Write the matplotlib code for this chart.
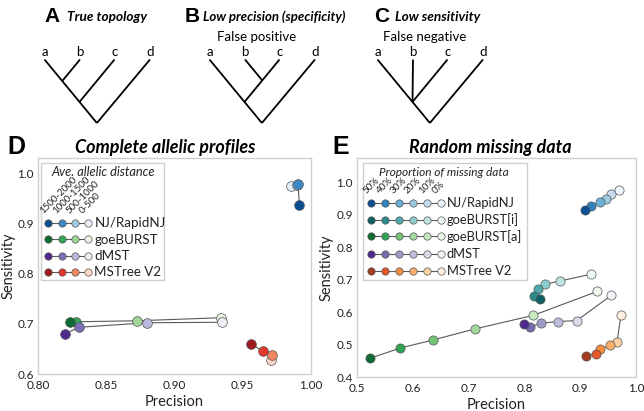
import matplotlib
matplotlib.use("Agg")
import matplotlib.pyplot as plt
from matplotlib.patches import Rectangle

# ---------------- data ----------------
dist_labels = ["1500-2000", "1000-1500", "500-1000", "0-500"]
d_methods = ["NJ/RapidNJ", "goeBURST", "dMST", "MSTree V2"]
d_nj_prec = [0.9915, 0.9905, 0.9900, 0.9850]
d_nj_sens = [0.936, 0.979, 0.977, 0.974]
d_goe_prec = [0.8236, 0.828, 0.8725, 0.934]
d_goe_sens = [0.703, 0.704, 0.706, 0.712]
d_dmst_prec = [0.820, 0.830, 0.880, 0.935]
d_dmst_sens = [0.680, 0.693, 0.702, 0.703]
d_mst_prec = [0.956, 0.965, 0.9715, 0.971]
d_mst_sens = [0.660, 0.645, 0.637, 0.628]

pct_labels = ["50%", "40%", "30%", "20%", "10%", "0%"]
e_methods = ["NJ/RapidNJ", "goeBURST[i]", "goeBURST[a]", "dMST", "MSTree V2"]
e_nj_prec = [0.908, 0.920, 0.935, 0.947, 0.956, 0.969]
e_nj_sens = [0.916, 0.926, 0.939, 0.950, 0.965, 0.977]
e_goei_prec = [0.828, 0.818, 0.825, 0.837, 0.864, 0.920]
e_goei_sens = [0.639, 0.651, 0.671, 0.686, 0.696, 0.717]
e_goea_prec = [0.524, 0.577, 0.636, 0.711, 0.816, 0.931]
e_goea_sens = [0.458, 0.489, 0.514, 0.548, 0.590, 0.664]
e_dmst_prec = [0.800, 0.810, 0.830, 0.861, 0.894, 0.956]
e_dmst_sens = [0.564, 0.554, 0.566, 0.571, 0.574, 0.652]
e_mst_prec = [0.910, 0.928, 0.936, 0.954, 0.966, 0.973]
e_mst_sens = [0.466, 0.471, 0.486, 0.498, 0.508, 0.590]

d_xticks = [0.80, 0.85, 0.90, 0.95, 1.00]
d_yticks = [0.6, 0.7, 0.8, 0.9, 1.0]
e_xticks = [0.5, 0.6, 0.7, 0.8, 0.9, 1.0]
e_yticks = [0.4, 0.5, 0.6, 0.7, 0.8, 0.9, 1.0]

# ---------------- styles ----------------
d_colors = [
    ["#0b4f92", "#3b89c6", "#9ecae1", "#e2edf7"],
    ["#0b6b33", "#36a357", "#9fd597", "#e8f5e3"],
    ["#4f2a8c", "#7a70b8", "#bab9dc", "#eeedf5"],
    ["#9e1b1e", "#e2382c", "#f2875f", "#fcd5c3"],
]
e_colors = [
    ["#0b4f92", "#3182bd", "#6baed6", "#9ecae1", "#c6dbef", "#eef4fb"],
    ["#0f5e5f", "#2b8b8d", "#51a8ac", "#8ccbcc", "#c0e4e2", "#edf7f6"],
    ["#0b6b33", "#31a354", "#74c476", "#a1d99b", "#c7e9c0", "#eef8ea"],
    ["#4f2a8c", "#756bb1", "#9e9ac8", "#bcbddc", "#dadaeb", "#f3f1f8"],
    ["#a33b20", "#e3562a", "#f68e3e", "#f9ae6c", "#fcd2a4", "#feefe0"],
]
FONT = ["Lato", "DejaVu Sans"]
LETTER = ["Liberation Sans", "DejaVu Sans"]
plt.rcParams["font.family"] = FONT
LINE_C = "#5a5a5a"
SPINE_C = "#cfcfcf"
TXT_C = "#222222"

W, H = 644, 411
fig = plt.figure(figsize=(W / 100, H / 100), dpi=100)


def rect(l, t, r, b):
    return [l / W, 1 - b / H, (r - l) / W, (b - t) / H]


axD = fig.add_axes(rect(38, 158, 311, 374))
axE = fig.add_axes(rect(357, 158, 636, 377))
ov = fig.add_axes([0, 0, 1, 1])
ov.set_xlim(0, W)
ov.set_ylim(H, 0)
ov.axis("off")


def style_axes(ax, xt, yt, xfmt, yfmt, xlim, ylim, ypad):
    ax.set_xlim(*xlim)
    ax.set_ylim(*ylim)
    ax.set_xticks(xt)
    ax.set_yticks(yt)
    ax.set_xticklabels([xfmt % v for v in xt])
    ax.set_yticklabels([yfmt % v for v in yt])
    ax.tick_params(length=0, labelsize=8.5, colors=TXT_C, pad=4)
    ax.tick_params(axis="y", pad=3)
    for s in ax.spines.values():
        s.set_color(SPINE_C)
        s.set_linewidth(1.0)
    ax.set_xlabel("Precision", fontsize=10.5, color=TXT_C, labelpad=3)
    ax.set_ylabel("Sensitivity", fontsize=10.5, color=TXT_C, labelpad=ypad)


def plot_series(ax, xs, ys, cols, ms):
    ax.plot(xs, ys, color=LINE_C, lw=0.8, zorder=2)
    for i in range(len(xs) - 1, -1, -1):
        ax.plot([xs[i]], [ys[i]], "o", ms=ms, mfc=cols[i], mec="#555555",
                mew=0.5, zorder=3 + (len(xs) - i))


style_axes(axD, d_xticks, d_yticks, "%.2f", "%.1f", (0.8, 1.0), (0.6, 1.03), 1)
style_axes(axE, e_xticks, e_yticks, "%.1f", "%.1f", (0.5, 1.0), (0.4, 1.075), 2)

d_series = [(d_nj_prec, d_nj_sens), (d_goe_prec, d_goe_sens),
            (d_dmst_prec, d_dmst_sens), (d_mst_prec, d_mst_sens)]
for (xs, ys), cols in zip(d_series, d_colors):
    plot_series(axD, xs, ys, cols, 7)

e_series = [(e_nj_prec, e_nj_sens), (e_goei_prec, e_goei_sens),
            (e_goea_prec, e_goea_sens), (e_dmst_prec, e_dmst_sens),
            (e_mst_prec, e_mst_sens)]
for (xs, ys), cols in zip(e_series, e_colors):
    plot_series(axE, xs, ys, cols, 6.6)


# ---------------- legends (figure pixel layout) ----------------
def legend(box, title, title_x, title_fs, col_x, row_y, colors, names,
           col_labels, ms, fs_name, fs_col):
    l, t, r, b = box
    ov.add_patch(Rectangle((l, t), r - l, b - t, fc="white", ec=SPINE_C,
                           lw=1.0, zorder=5))
    ov.text(title_x, t + 9, title, style="italic", fontsize=title_fs,
            ha="center", va="center", color=TXT_C, zorder=6)
    for j, lab in enumerate(col_labels):
        ov.text(col_x[j] - 4, row_y[0] - 7, lab, rotation=45,
                rotation_mode="anchor", ha="left", va="bottom",
                fontsize=fs_col, color=TXT_C, zorder=6)
    for i, name in enumerate(names):
        ov.plot([col_x[0], col_x[-1]], [row_y[i], row_y[i]], color=LINE_C,
                lw=0.8, zorder=6)
        for j in range(len(col_x)):
            ov.plot([col_x[j]], [row_y[i]], "o", ms=ms, mfc=colors[i][j],
                    mec="#555555", mew=0.5, zorder=7)
        ov.text(col_x[-1] + 6, row_y[i] + 0.5, name, fontsize=fs_name,
                va="center", ha="left", color=TXT_C, zorder=6)


legend((41, 163, 164, 280), "Ave. allelic distance", 103, 9.2,
       [48.3, 61.7, 75.0, 88.3], [222.7, 239.3, 255.6, 271.8],
       d_colors, d_methods, dist_labels, 5.3, 9.6, 7.0)
legend((363, 163, 527, 280), "Proportion of missing data", 444, 8.6,
       [371.5, 385.4, 399.3, 413.2, 427.1, 441.0],
       [202.7, 219.5, 236.3, 253.5, 270.7],
       e_colors, e_methods, pct_labels, 5.3, 9.3, 7.0)

# ---------------- panel letters & titles ----------------
ov.text(16, 147, "D", fontsize=18, fontweight="bold", family=LETTER,
        ha="center", va="center", color="black")
ov.text(165, 147, "Complete allelic profiles", fontsize=13,
        fontweight="bold", style="italic", ha="center", va="center",
        color="black")
ov.text(341, 147, "E", fontsize=18, fontweight="bold", family=LETTER,
        ha="center", va="center", color="black")
ov.text(490, 147, "Random missing data", fontsize=13,
        fontweight="bold", style="italic", ha="center", va="center",
        color="black")

# ---------------- trees (schematic) ----------------
TOP, ROOT_Y = 59.5, 123.0
K = 0.825  # horizontal shift per vertical px


def seg(x0, y0, x1, y1):
    ov.plot([x0, x1], [y0, y1], color="black", lw=1.3,
            solid_capstyle="butt", zorder=4)


def tree(ax0, kind):
    xa, xb, xc, xd = ax0, ax0 + 35.5, ax0 + 70, ax0 + 105.5
    dy = ROOT_Y - TOP
    rx = xa + K * dy
    seg(xa, TOP, rx, ROOT_Y)
    seg(xd, TOP, rx, ROOT_Y)
    t_c = (xc - xa) / (2 * K)
    if kind == "A":
        t_b = (xb - xa) / (2 * K)
        seg(xb, TOP, xa + K * t_b, TOP + t_b)
        seg(xc, TOP, xa + K * t_c, TOP + t_c)
    elif kind == "B":
        seg(xc, TOP, xa + K * t_c, TOP + t_c)
        t_bc = (xc - xb) / (2 * K)
        seg(xb, TOP, xb + K * t_bc, TOP + t_bc)
    else:
        nx = xa + K * t_c
        seg(xc, TOP, nx, TOP + t_c)
        seg(xb, TOP, nx, TOP + t_c)
    for x, lab in zip([xa, xb, xc, xd], "abcd"):
        ov.text(x, 55.5, lab, fontsize=9.5, ha="center", va="baseline",
                color="black")


tree(44.5, "A")
tree(209.5, "B")
tree(377.5, "C")

ov.text(52, 16.5, "A", fontsize=15, fontweight="bold", family=LETTER,
        ha="center", va="center")
ov.text(67, 17, "True topology", fontsize=9.8, fontweight="bold",
        style="italic", ha="left", va="center")
ov.text(192, 16.5, "B", fontsize=15, fontweight="bold", family=LETTER,
        ha="center", va="center")
ov.text(203, 17, "Low precision (specificity)", fontsize=9.5,
        fontweight="bold", style="italic", ha="left", va="center")
ov.text(382, 16.5, "C", fontsize=15, fontweight="bold", family=LETTER,
        ha="center", va="center")
ov.text(395, 17, "Low sensitivity", fontsize=9.8, fontweight="bold",
        style="italic", ha="left", va="center")
ov.text(257, 37, "False positive", fontsize=9.5, ha="center", va="center")
ov.text(425, 37, "False negative", fontsize=9.5, ha="center", va="center")

fig.savefig("out.png", dpi=100)
